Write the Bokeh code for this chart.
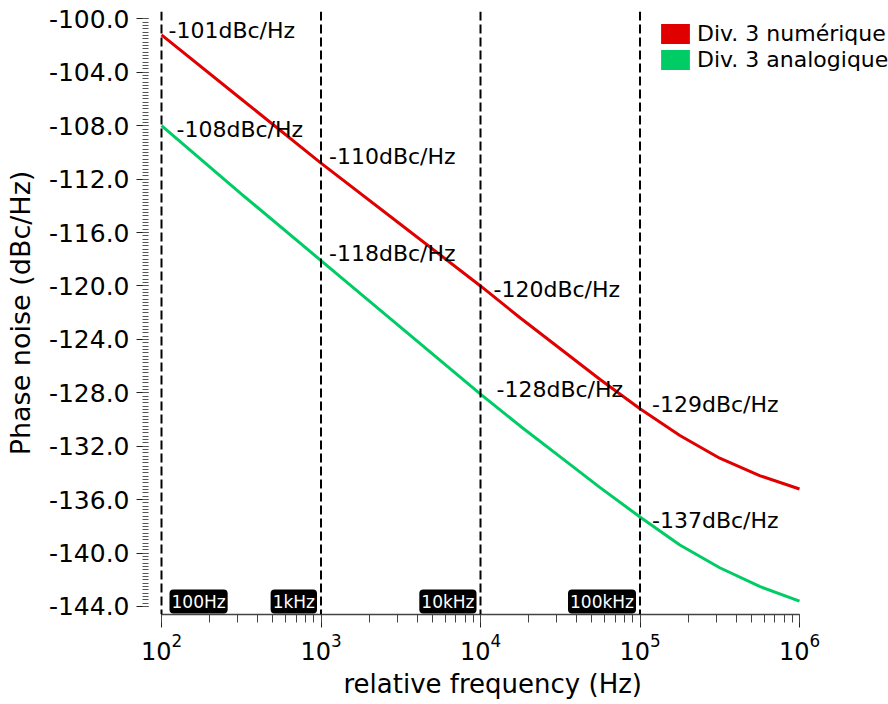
from bokeh.plotting import figure
from bokeh.models import FixedTicker, PrintfTickFormatter, Span, Label, Legend, LegendItem, LogTicker, Title
from bokeh.core.properties import value
from bokeh.embed import file_html
from bokeh.resources import INLINE

# ---- data ----
freq = [100, 316, 1000, 3162, 10000, 17783, 31623, 56234, 100000, 177828, 316228, 562341, 1000000]
numerique = [-101.2, -106.0, -110.8, -115.4, -120.0, -122.4, -124.7, -127.0, -129.2, -131.2, -132.9, -134.2, -135.2]
analogique = [-108.0, -113.1, -118.1, -123.1, -128.1, -130.5, -132.8, -135.1, -137.3, -139.4, -141.1, -142.5, -143.6]
series_names = ["Div. 3 numérique", "Div. 3 analogique"]
marks = [100, 1000, 10000, 100000]
mark_labels = ["100Hz", "1kHz", "10kHz", "100kHz"]
num_labels = ["-101dBc/Hz", "-110dBc/Hz", "-120dBc/Hz", "-129dBc/Hz"]
ana_labels = ["-108dBc/Hz", "-118dBc/Hz", "-128dBc/Hz", "-137dBc/Hz"]
y_ticks = [-144, -140, -136, -132, -128, -124, -120, -116, -112, -108, -104, -100]
y_minor = [-144 + 0.25 * i for i in range(177)]
x_lo, x_hi = 100, 1000000
x_view_lo = 10 ** (2 - 3 / 159.5)    # small gap so the first dashed line is not clipped
x_view_hi = 10 ** (6 + 89 / 159.5)   # room on the right for the legend
y_lo, y_hi = -144.6, -99.45

FONT = "DejaVu Sans"
RED = "#e00000"
GREEN = "#00cc66"

p = figure(width=888, height=704, x_axis_type="log",
           x_range=(x_view_lo, x_view_hi), y_range=(y_lo, y_hi),
           output_backend="svg", toolbar_location=None,
           min_border_left=158, min_border_right=0,
           min_border_top=11, min_border_bottom=90)
p.frame_width = 730
p.frame_height = 603
p.grid.visible = False
p.outline_line_color = None
p.background_fill_color = "white"
p.border_fill_color = "white"

# x axis
xa = p.xaxis[0]
xa.ticker = LogTicker(num_minor_ticks=10)
xa.bounds = (x_lo, x_hi)
xa.axis_line_color = "#444444"
xa.axis_line_width = 1.5
xa.major_tick_line_color = "#222222"
xa.minor_tick_line_color = "#444444"
xa.major_tick_in = 0
xa.major_tick_out = 13
xa.minor_tick_in = 0
xa.minor_tick_out = 8
xa.major_label_standoff = 5
xa.major_label_text_font = FONT
xa.major_label_text_font_size = "24px"
xa.major_label_text_color = "black"

p.add_layout(Title(text="relative frequency (Hz)", align="left", offset=185,
                   text_font=FONT, text_font_size="26px", text_font_style="normal",
                   text_color="black", standoff=8), "below")

# y axis
ya = p.yaxis[0]
ya.ticker = FixedTicker(ticks=y_ticks, minor_ticks=y_minor)
ya.formatter = PrintfTickFormatter(format="%.1f")
ya.axis_line_color = None
ya.major_tick_line_color = "#222222"
ya.minor_tick_line_color = "#555555"
ya.major_tick_in = -10
ya.major_tick_out = 22
ya.minor_tick_in = -10
ya.minor_tick_out = 16
ya.major_label_standoff = 7
ya.major_label_text_font = FONT
ya.major_label_text_font_size = "25px"
ya.major_label_text_color = "black"
ya.axis_label = "Phase noise (dBc/Hz)"
ya.axis_label_text_font = FONT
ya.axis_label_text_font_size = "27px"
ya.axis_label_text_font_style = "normal"
ya.axis_label_text_color = "black"
ya.axis_label_standoff = 10

# vertical dashed markers
for m in marks:
    p.add_layout(Span(location=m, dimension="height", line_color="black",
                      line_width=2, line_dash="9 4"))

# curves
p.line(freq, numerique, line_color=RED, line_width=3)
p.line(freq, analogique, line_color=GREEN, line_width=3)

# value annotations
num_y = [numerique[freq.index(m)] for m in marks]
ana_y = [analogique[freq.index(m)] for m in marks]
p.text(x=marks, y=num_y, text=num_labels,
       x_offset=[7, 8, 13, 12], y_offset=[-4, -7, 4, -4],
       text_font=value(FONT), text_font_size="22px", text_color="black",
       text_align="left", text_baseline="alphabetic")
p.text(x=marks, y=ana_y, text=ana_labels,
       x_offset=[15, 8, 16, 12], y_offset=[4, -7, -5, 3],
       text_font=value(FONT), text_font_size="22px", text_color="black",
       text_align="left", text_baseline="alphabetic")

# frequency badges
for i, (m, lab) in enumerate(zip(marks, mark_labels)):
    first = (i == 0)
    p.add_layout(Label(x=m, y=y_lo, text=lab,
                       x_offset=8 if first else -4, y_offset=1,
                       text_align="left" if first else "right",
                       text_baseline="bottom",
                       text_font=FONT, text_font_size="17px", text_color="white",
                       background_fill_color="black", background_fill_alpha=1.0,
                       border_radius=4, padding=2))

# legend swatches (zero-size rects so only the legend shows them)
r1 = p.rect(x=[freq[0]], y=[numerique[0]], width=0, height=0, fill_color=RED, line_color=None)
r2 = p.rect(x=[freq[0]], y=[analogique[0]], width=0, height=0, fill_color=GREEN, line_color=None)
legend = Legend(items=[LegendItem(label=series_names[0], renderers=[r1]),
                       LegendItem(label=series_names[1], renderers=[r2])],
                location=(499, 542), orientation="vertical",
                glyph_width=36, glyph_height=25, label_height=25,
                spacing=1, padding=0, margin=0, label_standoff=4,
                label_text_font=FONT, label_text_font_size="22px",
                label_text_color="black",
                background_fill_alpha=0, border_line_color=None)
p.add_layout(legend, "center")

open("out.html", "w").write(file_html(p, INLINE))
